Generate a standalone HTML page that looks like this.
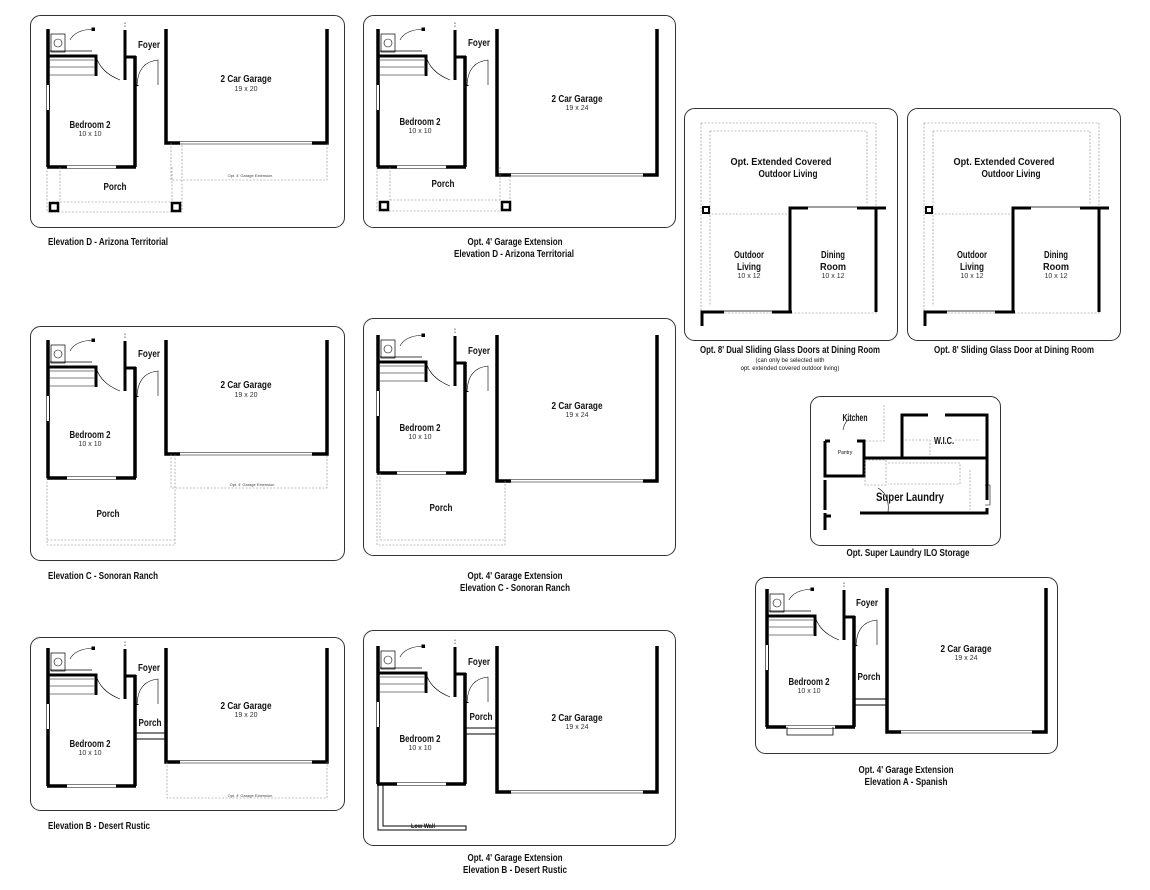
<!DOCTYPE html>
<html><head><meta charset="utf-8">
<style>
html,body{margin:0;padding:0;background:#fff;}
svg{display:block;}
text{font-family:"Liberation Sans Narrow","Liberation Sans",sans-serif;fill:#111;}
.l{font-size:10.5px;font-weight:bold;text-anchor:middle;}
.s{font-size:7px;text-anchor:middle;fill:#333;}
.c{font-size:10px;font-weight:bold;}
.cc{font-size:10px;font-weight:bold;text-anchor:middle;}
.t{font-size:4px;text-anchor:middle;fill:#444;}
</style></head><body>
<svg width="1150" height="890" viewBox="0 0 1150 890" xmlns="http://www.w3.org/2000/svg">
<defs>
<g id="H" fill="none" stroke="#000">
  <path d="M48,29 V167" stroke-width="3.5"/>
  <path d="M47,85 V110" stroke="#fff" stroke-width="4"/>
  <path d="M46.5,85 V110 M49.5,85 V110" stroke-width="0.6"/>
  <path d="M47,167 H136" stroke-width="3.5"/>
  <path d="M67,167 H116" stroke="#fff" stroke-width="4"/>
  <path d="M67,165.5 H116 M67,168.5 H116" stroke-width="0.6"/>
  <path d="M135,56 V167" stroke-width="3.5"/>
  <path d="M125,57 H136 M125,57 V80" stroke-width="3"/>
  <path d="M125,30 V57" stroke-width="3"/>
  <path d="M125,27 V22" stroke-width="0.6" stroke-dasharray="1.5,1.5"/>
  <path d="M48,56 H96 V76" stroke-width="3"/>
  <path d="M50,60 H94 M50,67 H94 M50,75 H94" stroke-width="0.6"/>
  <rect x="51" y="34" width="14" height="18" stroke-width="0.7"/>
  <circle cx="58" cy="43" r="4" stroke-width="0.6"/>
  <path d="M50,51 H92" stroke-width="0.7"/>
  <path d="M70,40 Q75,30 93,29" stroke-width="0.6"/>
  <rect x="92" y="28" width="2.5" height="2.5" fill="#000"/>
  <path d="M96,56 Q100,72 120,80" stroke-width="0.6"/>
  <path d="M137,85 Q138,62 158,60 V85" stroke-width="0.6"/>
  <path d="M137,85 V86" stroke-width="3"/>
</g>
<g id="G20" fill="none" stroke="#000">
  <path d="M166,29 V143 H180 M327,29 V143 H312" stroke-width="3.5"/>
  <path d="M180,141.5 H312 M180,144 H312" stroke-width="0.6"/>
</g>
<g id="G24" fill="none" stroke="#000">
  <path d="M497,29 V175 H511 M657,29 V175 H643" stroke-width="3.5"/>
  <path d="M511,173.5 H643 M511,176 H643" stroke-width="0.6"/>
</g>
</defs>

<g fill="none" stroke="#333" stroke-width="1">
<rect x="30.5" y="15.5" width="314" height="212" rx="10"/>
<rect x="363.5" y="15.5" width="312" height="212" rx="10"/>
<rect x="30.5" y="326.5" width="314" height="234" rx="10"/>
<rect x="363.5" y="318.5" width="312" height="237" rx="10"/>
<rect x="30.5" y="637.5" width="314" height="173" rx="10"/>
<rect x="363.5" y="630.5" width="312" height="215" rx="10"/>
<rect x="684.5" y="108.5" width="213" height="232" rx="10"/>
<rect x="907.5" y="108.5" width="213" height="232" rx="10"/>
<rect x="810.5" y="396.5" width="190" height="149" rx="10"/>
<rect x="755.5" y="577.5" width="302" height="176" rx="10"/>
</g>

<!-- Panel 1 -->
<use href="#H"/>
<use href="#G20"/>
<g fill="none" stroke="#888" stroke-width="0.6" stroke-dasharray="2,1.5">
<path d="M171,143 V180 H327 V143"/>
<path d="M47,167 V212 H182 V143 M60,167 V202 M172,167 V202 M60,202 H172"/>
</g>
<g fill="none" stroke="#000" stroke-width="2.5"><rect x="50" y="203" width="8" height="8"/><rect x="172" y="203" width="8" height="8"/></g>
<text class="l" x="149" y="48" textLength="22" lengthAdjust="spacingAndGlyphs">Foyer</text>
<text class="l" x="246" y="82" textLength="51" lengthAdjust="spacingAndGlyphs">2 Car Garage</text><text class="s" x="246" y="91">19 x 20</text>
<text class="l" x="90" y="128" textLength="41" lengthAdjust="spacingAndGlyphs">Bedroom 2</text><text class="s" x="90" y="136">10 x 10</text>
<text class="l" x="115" y="190" textLength="23" lengthAdjust="spacingAndGlyphs">Porch</text>
<text class="t" x="250" y="177">Opt. 4' Garage Extension</text>
<text class="c" x="48" y="245" textLength="120" lengthAdjust="spacingAndGlyphs">Elevation D - Arizona Territorial</text>

<!-- Panel 2 -->
<use href="#H" transform="translate(330,0)"/>
<use href="#G24"/>
<g fill="none" stroke="#888" stroke-width="0.6" stroke-dasharray="2,1.5">
<path d="M377,167 V211 H510 V175 M390,167 V200 M500,167 V200 M390,200 H500"/>
</g>
<g fill="none" stroke="#000" stroke-width="2.5"><rect x="380" y="202" width="8" height="8"/><rect x="502" y="202" width="8" height="8"/></g>
<text class="l" x="479" y="46" textLength="22" lengthAdjust="spacingAndGlyphs">Foyer</text>
<text class="l" x="577" y="102" textLength="51" lengthAdjust="spacingAndGlyphs">2 Car Garage</text><text class="s" x="577" y="110">19 x 24</text>
<text class="l" x="420" y="125" textLength="41" lengthAdjust="spacingAndGlyphs">Bedroom 2</text><text class="s" x="420" y="133">10 x 10</text>
<text class="l" x="443" y="187" textLength="23" lengthAdjust="spacingAndGlyphs">Porch</text>
<text class="cc" x="515" y="245" textLength="95" lengthAdjust="spacingAndGlyphs">Opt. 4' Garage Extension</text>
<text class="cc" x="514" y="257" textLength="120" lengthAdjust="spacingAndGlyphs">Elevation D - Arizona Territorial</text>

<!-- Row 2 left -->
<use href="#H" transform="translate(0,311)"/>
<use href="#G20" transform="translate(0,311)"/>
<g fill="none" stroke="#888" stroke-width="0.6" stroke-dasharray="2,1.5">
<path d="M171,454 V488 H327 V454"/>
<path d="M47,478 V545 H175 V454 M47,540 H175"/>
</g>
<text class="l" x="149" y="357" textLength="22" lengthAdjust="spacingAndGlyphs">Foyer</text>
<text class="l" x="246" y="388" textLength="51" lengthAdjust="spacingAndGlyphs">2 Car Garage</text><text class="s" x="246" y="397">19 x 20</text>
<text class="l" x="90" y="438" textLength="41" lengthAdjust="spacingAndGlyphs">Bedroom 2</text><text class="s" x="90" y="446">10 x 10</text>
<text class="l" x="108" y="517" textLength="23" lengthAdjust="spacingAndGlyphs">Porch</text>
<text class="t" x="252" y="486">Opt. 4' Garage Extension</text>
<text class="c" x="48" y="579" textLength="110" lengthAdjust="spacingAndGlyphs">Elevation C - Sonoran Ranch</text>

<!-- Row 2 right -->
<use href="#H" transform="translate(330,306)"/>
<use href="#G24" transform="translate(0,306)"/>
<g fill="none" stroke="#888" stroke-width="0.6" stroke-dasharray="2,1.5">
<path d="M377,473 V545 H505 V481 M380,540 H505 M380,473 V540"/>
</g>
<text class="l" x="479" y="354" textLength="22" lengthAdjust="spacingAndGlyphs">Foyer</text>
<text class="l" x="577" y="409" textLength="51" lengthAdjust="spacingAndGlyphs">2 Car Garage</text><text class="s" x="577" y="417">19 x 24</text>
<text class="l" x="420" y="431" textLength="41" lengthAdjust="spacingAndGlyphs">Bedroom 2</text><text class="s" x="420" y="439">10 x 10</text>
<text class="l" x="441" y="511" textLength="23" lengthAdjust="spacingAndGlyphs">Porch</text>
<text class="cc" x="515" y="579" textLength="95" lengthAdjust="spacingAndGlyphs">Opt. 4' Garage Extension</text>
<text class="cc" x="515" y="591" textLength="110" lengthAdjust="spacingAndGlyphs">Elevation C - Sonoran Ranch</text>

<!-- Row 3 left -->
<use href="#H" transform="translate(0,619)"/>
<use href="#G20" transform="translate(0,619)"/>
<g fill="none" stroke="#888" stroke-width="0.6" stroke-dasharray="2,1.5">
<path d="M167,762 V798 H327 V762"/>
</g>
<path d="M136,733 H166 M136,739 H166" stroke="#000" stroke-width="1" fill="none"/>
<text class="l" x="149" y="671" textLength="22" lengthAdjust="spacingAndGlyphs">Foyer</text>
<text class="l" x="246" y="709" textLength="51" lengthAdjust="spacingAndGlyphs">2 Car Garage</text><text class="s" x="246" y="717">19 x 20</text>
<text class="l" x="90" y="747" textLength="41" lengthAdjust="spacingAndGlyphs">Bedroom 2</text><text class="s" x="90" y="755">10 x 10</text>
<text class="l" x="150" y="726" textLength="23" lengthAdjust="spacingAndGlyphs">Porch</text>
<text class="t" x="250" y="797">Opt. 4' Garage Extension</text>
<text class="c" x="48" y="829" textLength="102" lengthAdjust="spacingAndGlyphs">Elevation B - Desert Rustic</text>

<!-- Row 3 right -->
<use href="#H" transform="translate(330,617)"/>
<use href="#G24" transform="translate(0,617)"/>
<path d="M466,728 H496 M466,734 H496" stroke="#000" stroke-width="1" fill="none"/>
<path d="M378,785 V830 H466 V826 H383 V785 Z" fill="none" stroke="#000" stroke-width="1"/>
<text class="l" x="479" y="665" textLength="22" lengthAdjust="spacingAndGlyphs">Foyer</text>
<text class="l" x="577" y="721" textLength="51" lengthAdjust="spacingAndGlyphs">2 Car Garage</text><text class="s" x="577" y="729">19 x 24</text>
<text class="l" x="420" y="742" textLength="41" lengthAdjust="spacingAndGlyphs">Bedroom 2</text><text class="s" x="420" y="750">10 x 10</text>
<text class="l" x="481" y="720" textLength="23" lengthAdjust="spacingAndGlyphs">Porch</text>
<text style="font-size:6px;font-weight:bold" x="411" y="828" textLength="24" lengthAdjust="spacingAndGlyphs">Low Wall</text>
<text class="cc" x="515" y="861" textLength="95" lengthAdjust="spacingAndGlyphs">Opt. 4' Garage Extension</text>
<text class="cc" x="515" y="873" textLength="104" lengthAdjust="spacingAndGlyphs">Elevation B - Desert Rustic</text>

<!-- Outdoor living panels -->
<g id="OL">
<g fill="none" stroke="#888" stroke-width="0.6" stroke-dasharray="2,1.5">
<rect x="701" y="123" width="175" height="190"/>
<path d="M710,131 H867 V205 M710,131 V305 M708,214 H790"/>
</g>
<g fill="none" stroke="#000" stroke-width="3">
<path d="M790,312 V208 H808 M857,208 H886 M876,208 V312"/>
<path d="M702,326 V312 H724 M772,312 H792"/>
</g>
<path d="M808,207 H857 M724,311 H772" stroke="#000" stroke-width="0.7" fill="none"/>
<rect x="703" y="207" width="6" height="6" fill="none" stroke="#000" stroke-width="2"/>
<text class="l" x="781" y="165" textLength="101" lengthAdjust="spacingAndGlyphs">Opt. Extended Covered</text>
<text class="l" x="788" y="177" textLength="59" lengthAdjust="spacingAndGlyphs">Outdoor Living</text>
<text class="l" x="749" y="258" textLength="30" lengthAdjust="spacingAndGlyphs">Outdoor</text><text class="l" x="749" y="270" textLength="24" lengthAdjust="spacingAndGlyphs">Living</text><text class="s" x="749" y="278">10 x 12</text>
<text class="l" x="833" y="258" textLength="24" lengthAdjust="spacingAndGlyphs">Dining</text><text class="l" x="833" y="270" textLength="26" lengthAdjust="spacingAndGlyphs">Room</text><text class="s" x="833" y="278">10 x 12</text>
</g>
<use href="#OL" transform="translate(223,0)"/>
<text class="cc" x="790" y="353" textLength="180" lengthAdjust="spacingAndGlyphs">Opt. 8' Dual Sliding Glass Doors at Dining Room</text>
<text style="font-size:6px;text-anchor:middle" x="790" y="362">(can only be selected with</text>
<text style="font-size:6px;text-anchor:middle" x="790" y="370">opt. extended covered outdoor living)</text>
<text class="cc" x="1014" y="353" textLength="160" lengthAdjust="spacingAndGlyphs">Opt. 8' Sliding Glass Door at Dining Room</text>

<!-- Super laundry -->
<g fill="none" stroke="#000" stroke-width="3">
<path d="M825,441 V476 H864 V441 H857 M825,441 H830"/>
<path d="M864,458 H987 V500 M902,458 V415 H928 M945,415 H987 V458"/>
<path d="M860,513 H987 V508 M825,480 V510 M825,513 V530 M825,516 H831"/>
</g>
<g fill="none" stroke="#888" stroke-width="0.6" stroke-dasharray="2,1.5">
<path d="M865,460 H886 V485 H865 Z M888,463 H960 V484 H888 M970,470 V510 M905,440 H930 V455 M955,440 H980 M884,405 V441 H864"/>
</g>
<path d="M985,485 H990 V505 H985" fill="none" stroke="#000" stroke-width="0.6"/>
<path d="M878,488 Q890,495 888,512 M843,430 Q845,420 850,420" fill="none" stroke="#000" stroke-width="0.6"/>
<text class="l" x="855" y="421" textLength="25" lengthAdjust="spacingAndGlyphs">Kitchen</text>
<text style="font-size:5px;text-anchor:middle" x="845" y="454">Pantry</text>
<text class="l" x="944" y="444" textLength="20" lengthAdjust="spacingAndGlyphs">W.I.C.</text>
<text class="l" x="910" y="501" style="font-size:12px" textLength="68" lengthAdjust="spacingAndGlyphs">Super Laundry</text>
<text class="cc" x="908" y="556" textLength="123" lengthAdjust="spacingAndGlyphs">Opt. Super Laundry ILO Storage</text>

<!-- Elevation A -->
<use href="#H" transform="translate(719,560)"/>
<g fill="none" stroke="#000">
<path d="M887,588 V732 H901 M1046,588 V732 H1032" stroke-width="3.5"/>
<path d="M901,730.5 H1032 M901,733 H1032" stroke-width="0.6"/>
<path d="M855,699 H887 M855,705 H887" stroke-width="1"/>
<path d="M787,727 V735 H833 V727" stroke-width="0.8"/>
</g>
<text class="l" x="867" y="606" textLength="22" lengthAdjust="spacingAndGlyphs">Foyer</text>
<text class="l" x="966" y="652" textLength="51" lengthAdjust="spacingAndGlyphs">2 Car Garage</text><text class="s" x="966" y="660">19 x 24</text>
<text class="l" x="809" y="685" textLength="41" lengthAdjust="spacingAndGlyphs">Bedroom 2</text><text class="s" x="809" y="693">10 x 10</text>
<text class="l" x="869" y="680" textLength="23" lengthAdjust="spacingAndGlyphs">Porch</text>
<text class="cc" x="906" y="773" textLength="95" lengthAdjust="spacingAndGlyphs">Opt. 4' Garage Extension</text>
<text class="cc" x="906" y="785" textLength="83" lengthAdjust="spacingAndGlyphs">Elevation A - Spanish</text>
</svg>
</body></html>
